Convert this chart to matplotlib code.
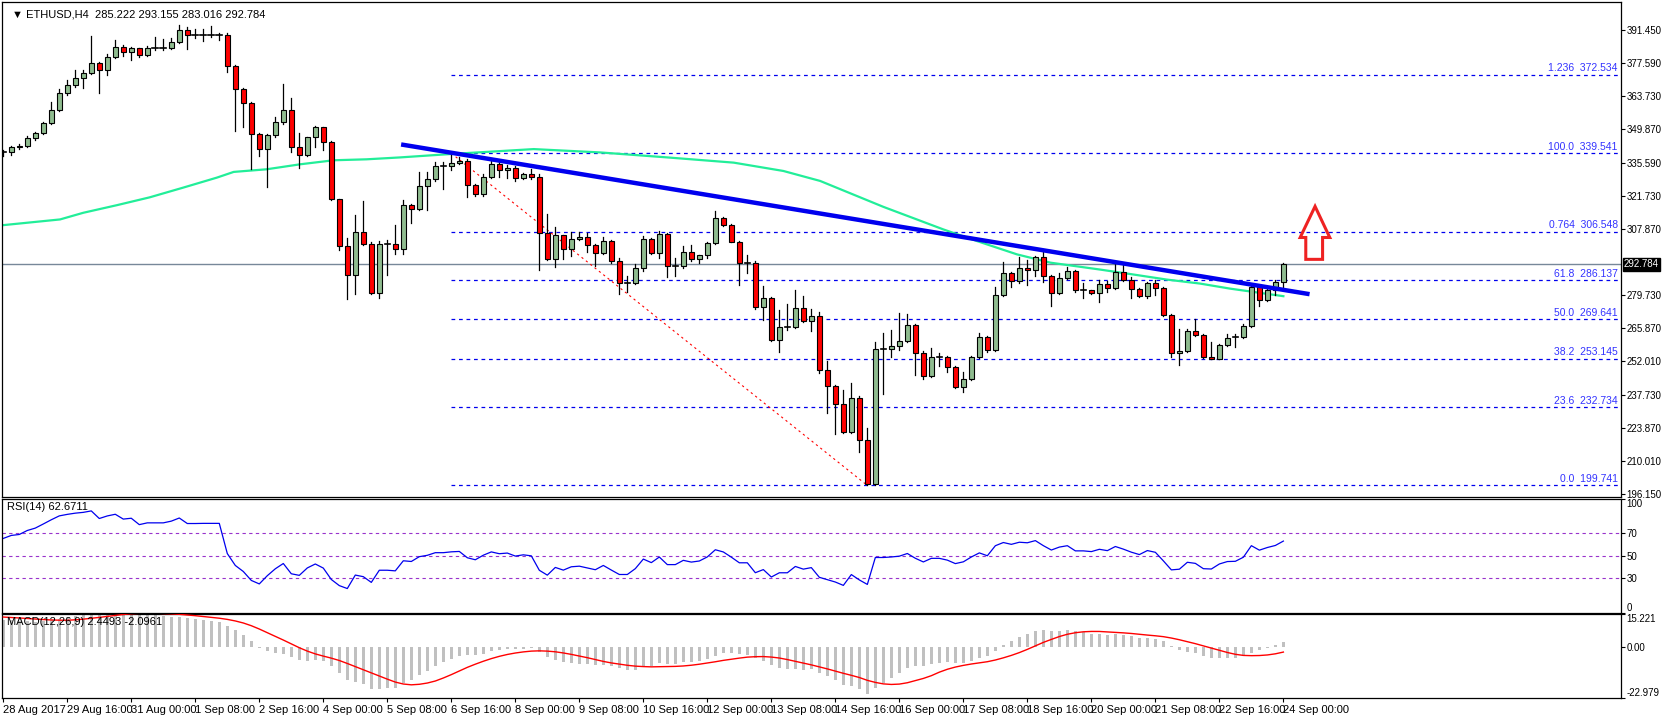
import numpy as np
import matplotlib
matplotlib.use("Agg")
import matplotlib.pyplot as plt
from matplotlib.patches import Polygon

# ---------------- data ----------------
closes = [339.9,342.0,342.7,345.8,347.9,352.1,357.7,364.7,368.1,371.1,373.2,377.4,374.4,379.9,384.1,382.0,383.7,380.9,383.7,383.7,
383.7,386.2,391.5,389.3,389.3,389.5,389.5,389.5,376.1,366.8,360.5,347.8,341.2,347.2,352.9,357.7,342.0,339.0,346.2,350.4,
344.1,320.2,300.5,288.4,306.5,301.5,280.8,301.2,301.2,299.4,317.9,316.2,325.8,328.6,334.0,334.0,335.6,336.3,326.1,322.6,
329.7,335.2,332.5,333.5,329.3,331.0,329.7,306.1,294.9,305.0,299.1,303.6,304.4,301.1,297.7,302.7,294.3,285.0,285.0,291.4,
303.6,297.7,305.6,292.3,292.3,298.1,295.2,296.6,301.9,312.4,309.5,302.3,293.5,293.5,274.9,278.7,261.1,266.5,266.5,274.5,
269.1,271.0,248.5,241.7,234.1,222.2,236.5,218.9,200.5,257.2,257.2,258.6,260.6,267.3,255.5,245.7,253.8,253.8,249.6,241.2,
244.5,253.8,262.3,256.6,280.0,289.0,285.7,291.4,290.5,296.0,288.1,280.8,287.1,290.1,281.9,281.9,280.8,284.7,282.9,289.7,
286.4,282.5,279.4,285.0,282.9,271.4,255.5,256.3,264.9,263.1,253.7,253.1,258.9,261.8,262.1,266.8,283.3,277.7,281.9,285.2,
292.784]
opens = [339.9,339.9,342.0,342.7,345.8,347.9,352.1,357.7,364.7,368.1,371.1,373.2,377.4,374.4,379.9,384.1,382.0,383.7,380.9,383.7,
383.7,383.7,386.2,391.5,389.3,389.3,389.5,389.5,389.5,376.1,366.8,360.5,347.8,341.2,347.2,352.9,357.7,342.0,339.0,346.2,
350.4,344.1,320.2,300.5,288.4,306.5,301.5,280.8,301.2,301.2,299.4,317.9,316.2,325.8,328.6,334.0,334.0,335.6,336.3,326.1,
322.6,329.7,335.2,332.5,333.5,329.3,331.0,329.7,306.1,294.9,305.0,299.1,303.6,304.4,301.1,297.7,302.7,294.3,285.0,285.0,
291.4,303.6,297.7,305.6,292.3,292.3,298.1,295.2,296.6,301.9,312.4,309.5,302.3,293.5,293.5,274.9,278.7,261.1,266.5,266.5,
274.5,269.1,271.0,248.5,241.7,234.1,222.2,236.5,218.9,200.5,257.2,257.2,258.6,260.6,267.3,255.5,245.7,253.8,253.8,249.6,
241.2,244.5,253.8,262.3,256.6,280.0,289.0,285.7,291.4,290.5,296.0,288.1,280.8,287.1,290.1,281.9,281.9,280.8,284.7,282.9,
289.7,286.4,282.5,279.4,285.0,282.9,271.4,255.5,256.3,264.9,263.1,253.7,253.1,258.9,261.8,262.1,266.8,283.3,277.7,281.9,
285.222]
highs = [341.0,342.6,343.5,346.8,348.3,352.6,361.0,366.5,370.5,374.5,374.5,389.1,378.0,381.5,387.1,385.0,384.2,384.0,384.5,388.5,
387.5,388.2,393.5,392.5,391.8,391.8,393.0,390.0,390.0,376.5,367.0,361.0,348.0,347.5,354.6,368.7,362.7,348.0,346.5,351.0,
350.8,344.5,320.5,304.0,313.5,319.5,302.0,302.5,303.2,309.2,319.8,318.2,331.8,331.6,335.7,335.7,339.0,337.8,337.0,326.5,
330.7,336.8,335.8,334.7,334.0,331.3,332.8,331.0,313.8,308.7,305.3,306.6,306.6,306.1,301.5,304.3,303.0,295.3,287.8,292.8,
304.7,304.0,306.7,306.0,295.4,300.5,300.8,296.9,302.2,315.2,312.7,309.8,302.6,296.6,294.0,283.7,279.0,273.5,276.3,281.8,
279.6,273.8,272.6,252.0,242.0,240.0,242.8,237.2,223.9,260.0,263.9,265.0,272.4,272.1,267.7,256.3,257.7,255.5,254.2,250.0,
247.4,254.2,263.9,262.7,283.4,293.9,289.7,295.7,294.5,296.4,298.0,288.5,289.0,291.8,290.5,285.0,282.2,286.4,285.7,292.9,
292.9,287.3,282.9,285.4,286.4,283.3,271.8,265.7,265.7,269.8,263.5,260.1,259.3,263.5,263.6,267.7,283.9,283.9,282.5,286.4,
293.155]
lows = [338.5,339.0,341.5,342.0,345.3,347.5,352.0,357.5,364.0,367.5,367.0,373.0,364.8,372.5,379.5,380.5,379.0,380.0,380.5,383.0,
383.0,383.5,386.0,383.3,388.0,386.6,388.5,387.3,373.6,348.8,350.5,332.8,338.2,325.2,346.5,352.0,340.0,333.5,338.5,342.0,
341.1,319.8,298.8,278.4,280.4,301.0,280.4,278.8,288.2,297.0,297.0,310.2,315.8,315.8,328.0,324.4,332.5,335.0,321.1,321.6,
321.6,329.0,329.7,329.0,327.9,328.6,328.9,290.4,294.5,291.8,294.9,296.3,303.2,298.0,292.1,297.3,293.5,280.5,281.3,284.6,
290.0,297.1,295.4,287.3,287.8,291.4,294.2,293.3,295.4,301.5,309.0,302.0,284.1,289.3,274.2,269.3,260.7,255.8,265.3,266.0,
268.7,264.6,247.1,230.3,221.5,221.8,221.8,214.0,199.741,200.0,238.2,253.6,256.9,260.0,246.3,244.5,245.3,249.9,247.4,240.8,
238.9,244.0,253.4,255.8,256.2,279.6,283.3,285.0,284.3,287.8,285.3,275.2,280.4,286.7,281.2,278.8,280.2,277.0,281.1,282.5,
285.7,278.8,279.1,278.6,280.1,271.2,253.8,250.6,255.8,262.5,253.5,252.8,252.8,258.5,258.2,261.7,266.5,275.2,277.3,279.9,
283.016]

ma_idx = [0, 7.1, 10, 14.2, 18.3, 22.5, 26.7, 28.8, 32.9, 37.1, 41.3, 45.4, 49.6, 55.8, 66.3, 74.6, 83, 91.3, 97.5, 102.1,
          110, 117.5, 121.7, 126.7, 130.9, 137.1, 141.3, 145.4, 149.6, 153.3, 160]
ma_val = [309.3, 311.7, 314.5, 317.7, 321.0, 325.1, 329.3, 331.7, 332.8, 334.9, 336.6, 337.0, 337.8, 339.2, 341.3, 339.9,
          337.8, 335.6, 332.1, 327.9, 317.0, 307.5, 302.6, 297.0, 293.5, 290.6, 288.5, 286.4, 284.7, 282.6, 279.4]

fib_pct = ["1.236", "100.0", "0.764", "61.8", "50.0", "38.2", "23.6", "0.0"]
fib_price = [372.534, 339.541, 306.548, 286.137, 269.641, 253.145, 232.734, 199.741]

price_ticks = [391.450, 377.590, 363.730, 349.870, 335.590, 321.730, 307.870, 279.730, 265.870, 252.010, 237.730, 223.870, 210.010, 196.150]
date_labels = ["28 Aug 2017", "29 Aug 16:00", "31 Aug 00:00", "1 Sep 08:00", "2 Sep 16:00", "4 Sep 00:00", "5 Sep 08:00",
               "6 Sep 16:00", "8 Sep 00:00", "9 Sep 08:00", "10 Sep 16:00", "12 Sep 00:00", "13 Sep 08:00", "14 Sep 16:00",
               "16 Sep 00:00", "17 Sep 08:00", "18 Sep 16:00", "20 Sep 00:00", "21 Sep 08:00", "22 Sep 16:00", "24 Sep 00:00"]
date_step = 8

trend_x = [50, 163]
trend_y = [343.1, 280.4]
fibline_x = [56, 108]
fibline_y = [339.541, 199.741]
arrow_pts = [(163.96, 317.2), (165.8, 304.1), (164.9, 304.1), (164.9, 294.9), (162.8, 294.9), (162.8, 304.1), (162.1, 304.1)]

macd_seed = (333.0, 320.0, 14.0)  # EMA12, EMA26, signal before window
rsi_seed = (1.3, 0.7)             # avg gain / avg loss before window

# ---------------- indicators ----------------
c = np.array(closes)
n = len(c)
x = np.arange(n)

au, ad = rsi_seed
r = [100 - 100 / (1 + au / ad)]
for i in range(1, n):
    d = c[i] - c[i - 1]
    au = (au * 13 + max(d, 0)) / 14
    ad = (ad * 13 + max(-d, 0)) / 14
    r.append(100 - 100 / (1 + au / max(ad, 1e-9)))
r = np.array(r)

e12, e26, sig0 = macd_seed
m12 = []; m26 = []
for v in c:
    e12 = e12 + 2 / 13 * (v - e12); e26 = e26 + 2 / 27 * (v - e26)
    m12.append(e12); m26.append(e26)
macd = np.array(m12) - np.array(m26)
signal = []
hist = [sig0] * 8
for v in macd:
    hist.append(v)
    signal.append(np.mean(hist[-9:]))
signal = np.array(signal)

# ---------------- figure ----------------
plt.rcParams["font.family"] = "Liberation Sans"
fig = plt.figure(figsize=(16.63, 7.2), dpi=100)
L, R = 2 / 1663, 1621 / 1663
ax = fig.add_axes([L, 0.3101, R - L, 0.9972 - 0.3101])
ax2 = fig.add_axes([L, 0.1493, R - L, 0.3076 - 0.1493])
ax3 = fig.add_axes([L, 0.0306, R - L, 0.1472 - 0.0306])
XL = (-0.16, 202.2)
for a in (ax, ax2, ax3):
    a.set_xlim(*XL)
    a.yaxis.tick_right()
    a.tick_params(axis="y", labelsize=7, length=3, pad=1)
    a.set_xticks([])
    for s in a.spines.values():
        s.set_linewidth(0.9)

ax.set_ylim(195.0, 403.2)
greenc = "#8fbc8f"
for i in range(n):
    o, cl, h, lo = opens[i], closes[i], highs[i], lows[i]
    ax.plot([i, i], [lo, h], color="black", lw=0.9, zorder=3)
    if abs(cl - o) < 0.35:
        ax.plot([i - 0.35, i + 0.35], [cl, cl], color="black", lw=1.2, zorder=4)
    else:
        col = greenc if cl > o else "red"
        ax.bar(i, abs(cl - o), bottom=min(o, cl), width=0.62, color=col, edgecolor="black", lw=0.8, zorder=4)

ax.plot(ma_idx, ma_val, color="#22ee99", lw=1.6, zorder=2)
ax.plot(trend_x, trend_y, color="#0000ee", lw=3.2, zorder=5)
ax.plot(fibline_x, fibline_y, color="red", lw=0.8, ls=(0, (2, 3)), zorder=2)
for pct, pv in zip(fib_pct, fib_price):
    ax.plot([fibline_x[0], XL[1]], [pv, pv], color="#0000ee", lw=0.9, ls=(0, (3, 3)), zorder=1)
    ax.text(XL[1] - 0.4, pv + 0.6, f"{pct}  {pv:.3f}", color="#3333ff", fontsize=7.5, ha="right", va="bottom")
ax.axhline(closes[-1], color="#778899", lw=1.0, zorder=1)
ax.add_patch(Polygon(arrow_pts, closed=True, fill=False, edgecolor="#ee2222", lw=2.2, zorder=6))

ax.set_yticks(price_ticks)
ax.set_yticklabels([f"{t:.3f}" for t in price_ticks])
ax.text(1.0 + 3 / 1621, closes[-1], f"{closes[-1]:.3f}", transform=ax.get_yaxis_transform(), fontsize=7,
        color="white", va="center", ha="left", bbox=dict(facecolor="black", edgecolor="black", pad=1.0))
ax.text(0.006, 0.985, "\u25bc ETHUSD,H4  285.222 293.155 283.016 292.784", transform=ax.transAxes, fontsize=8,
        va="top", ha="left")

# RSI
ax2.set_ylim(0, 100)
for lv in (70, 50, 30):
    ax2.axhline(lv, color="#9933cc", lw=0.8, ls=(0, (3, 3)))
ax2.plot(x, r, color="#0000ee", lw=0.9)
ax2.set_yticks([100, 70, 50, 30, 0])
ax2.set_yticklabels(["100", "70", "50", "30", "0"])
tl = ax2.get_yticklabels()
tl[0].set_va("top"); tl[-1].set_va("bottom")
ax2.text(0.003, 0.97, f"RSI(14) {r[-1]:.4f}", transform=ax2.transAxes, fontsize=8, va="top")

# MACD
ax3.set_ylim(-22.979, 15.221)
ax3.bar(x, macd, width=0.35, color="#c0c0c0", zorder=2)
ax3.plot(x, signal, color="red", lw=1.0, zorder=3)
ax3.set_yticks([15.221, 0.0, -22.979])
ax3.set_yticklabels(["15.221", "0.00", "-22.979"])
tl = ax3.get_yticklabels()
tl[0].set_va("top"); tl[-1].set_va("bottom")
ax3.text(0.003, 0.97, f"MACD(12,26,9) {macd[-1]:.4f} {signal[-1]:.4f}", transform=ax3.transAxes, fontsize=8, va="top")

ax3.set_xticks([k * date_step for k in range(len(date_labels))])
ax3.set_xticklabels(date_labels, fontsize=8, ha="left")
ax3.tick_params(axis="x", length=3, pad=2)

fig.savefig("out.png", dpi=100, facecolor="white")
